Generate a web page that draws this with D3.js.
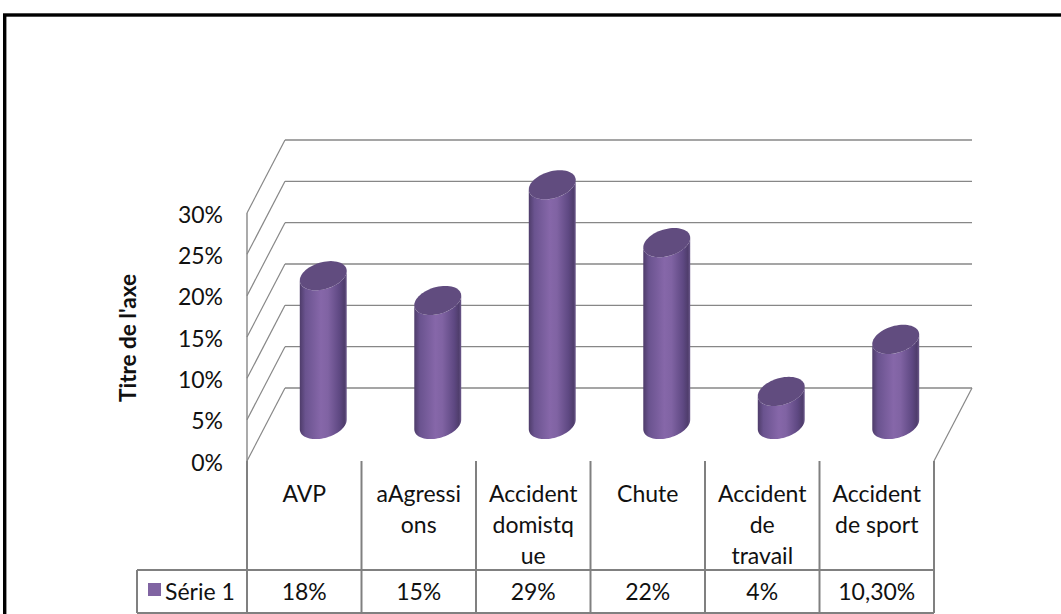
<!DOCTYPE html>
<html><head><meta charset="utf-8">
<script src="https://cdn.jsdelivr.net/npm/d3@7/dist/d3.min.js"></script>
<style>html,body{margin:0;padding:0;background:#fff;overflow:hidden}text{font-family:Lato,"Noto Sans",sans-serif}</style>
</head><body>
<svg id="c" width="1061" height="614"></svg>
<script>
const categories = ["AVP","aAgressions","Accident domistque","Chute","Accident de travail","Accident de sport"];
const categoryLines = [["AVP"],["aAgressi","ons"],["Accident","domistq","ue"],["Chute"],["Accident","de","travail"],["Accident","de sport"]];
const values = [18, 15, 29, 22, 4, 10.3];
const valueLabels = ["18%","15%","29%","22%","4%","10,30%"];
const yTicks = [0,5,10,15,20,25,30];
const seriesName = "Série 1";
const axisTitle = "Titre de l'axe";

const svg = d3.select("#c");
const defs = svg.append("defs");
const grad = defs.append("linearGradient").attr("id","cyl").attr("x1","0").attr("x2","1").attr("y1","0").attr("y2","0");
[[0,"#4e3c6a"],[0.12,"#6a538f"],[0.45,"#8667a9"],[0.6,"#8063a3"],[0.85,"#5e4882"],[0.95,"#4f3d6c"],[1,"#6d5a8c"]]
  .forEach(([o,c])=>grad.append("stop").attr("offset",o).attr("stop-color",c));

// chart border
svg.append("rect").attr("x",4.7).attr("y",15).attr("width",1100).attr("height",700)
  .attr("fill","none").attr("stroke","#000").attr("stroke-width",3.4);

const x = d3.scaleBand().domain(categories).range([247, 934]).paddingInner(0).paddingOuter(0);
const y = d3.scaleLinear().domain([0,30]).range([461, 213]);
const depth = {dx: 38, dy: -73};
const gridColor = "#878787";

// back wall gridlines
const g = svg.append("g");
yTicks.forEach(t=>{
  g.append("line").attr("x1", x.range()[0]+depth.dx).attr("x2", x.range()[1]+depth.dx)
    .attr("y1", y(t)+depth.dy).attr("y2", y(t)+depth.dy)
    .attr("stroke",gridColor).attr("stroke-width",1.4);
  g.append("line").attr("x1", x.range()[0]).attr("y1", y(t))
    .attr("x2", x.range()[0]+depth.dx).attr("y2", y(t)+depth.dy)
    .attr("stroke",gridColor).attr("stroke-width",1.2);
});
g.append("line").attr("x1",247).attr("x2",247).attr("y1",y(30)).attr("y2",y(0)).attr("stroke",gridColor).attr("stroke-width",1.4);
g.append("line").attr("x1",x.range()[1]).attr("y1",y(0)).attr("x2",x.range()[1]+depth.dx).attr("y2",y(0)+depth.dy)
  .attr("stroke",gridColor).attr("stroke-width",1.2);

const textColor = "#111";
yTicks.forEach(t=>{
  svg.append("text").attr("x",223).attr("y",y(t)+4).attr("text-anchor","end")
    .attr("dominant-baseline","middle").attr("font-size",23).attr("fill",textColor).text(t+"%");
});
svg.append("text").attr("transform","translate(130,338) rotate(-90)").attr("text-anchor","middle")
  .attr("dominant-baseline","middle").attr("font-size",22.5).attr("font-weight","bold").attr("fill",textColor).text(axisTitle);

// cylinders
const r = 22.2, fr = 0.2;
const ax = fr*depth.dx, ay = fr*depth.dy;
function ell(cx, cy, t){ return [cx + r*Math.cos(t) + ax*Math.sin(t), cy + ay*Math.sin(t)]; }
const t0 = Math.atan2(ax, r);
const line = d3.line();
categories.forEach((c,i)=>{
  const cx = x(c) + x.bandwidth()/2 + depth.dx*0.5;
  const by = y(0) + depth.dy*0.5;
  const ty = y(values[i]) + depth.dy*0.5;
  const pts = [];
  const N = 40;
  for(let k=0;k<=N;k++){ const t = t0 - Math.PI*k/N; pts.push(ell(cx,by,t)); }
  for(let k=0;k<=N;k++){ const t = t0 - Math.PI + Math.PI*k/N; pts.push(ell(cx,ty,t)); }
  svg.append("path").attr("d", line(pts)+"Z").attr("fill","url(#cyl)");
  const tp = d3.range(0,64).map(k=>ell(cx,ty,2*Math.PI*k/64));
  svg.append("path").attr("d", line(tp)+"Z").attr("fill","#614c7f");
});

// table
const tc = "#808080";
const tg = svg.append("g").attr("stroke",tc).attr("stroke-width",2);
const cols = categories.map(c=>x(c)).concat([x.range()[1]]);
cols.forEach(cx=>tg.append("line").attr("x1",cx).attr("x2",cx).attr("y1",461).attr("y2",613));
tg.append("line").attr("x1",137).attr("x2",x.range()[1]).attr("y1",570).attr("y2",570);
tg.append("line").attr("x1",137).attr("x2",x.range()[1]).attr("y1",613).attr("y2",613);
tg.append("line").attr("x1",137).attr("x2",137).attr("y1",570).attr("y2",613);

categories.forEach((c,i)=>{
  categoryLines[i].forEach((ln,j)=>{
    svg.append("text").attr("x",x(c)+x.bandwidth()/2).attr("y",502+31*j).attr("text-anchor","middle")
      .attr("font-size",23).attr("fill",textColor).text(ln);
  });
  svg.append("text").attr("x",x(c)+x.bandwidth()/2).attr("y",600).attr("text-anchor","middle")
    .attr("font-size",23).attr("fill",textColor).text(valueLabels[i]);
});
svg.append("rect").attr("x",148).attr("y",583).attr("width",13).attr("height",13).attr("fill","#8064a2");
svg.append("text").attr("x",165).attr("y",600).attr("font-size",23).attr("fill",textColor).text(seriesName);
</script>
</body></html>
